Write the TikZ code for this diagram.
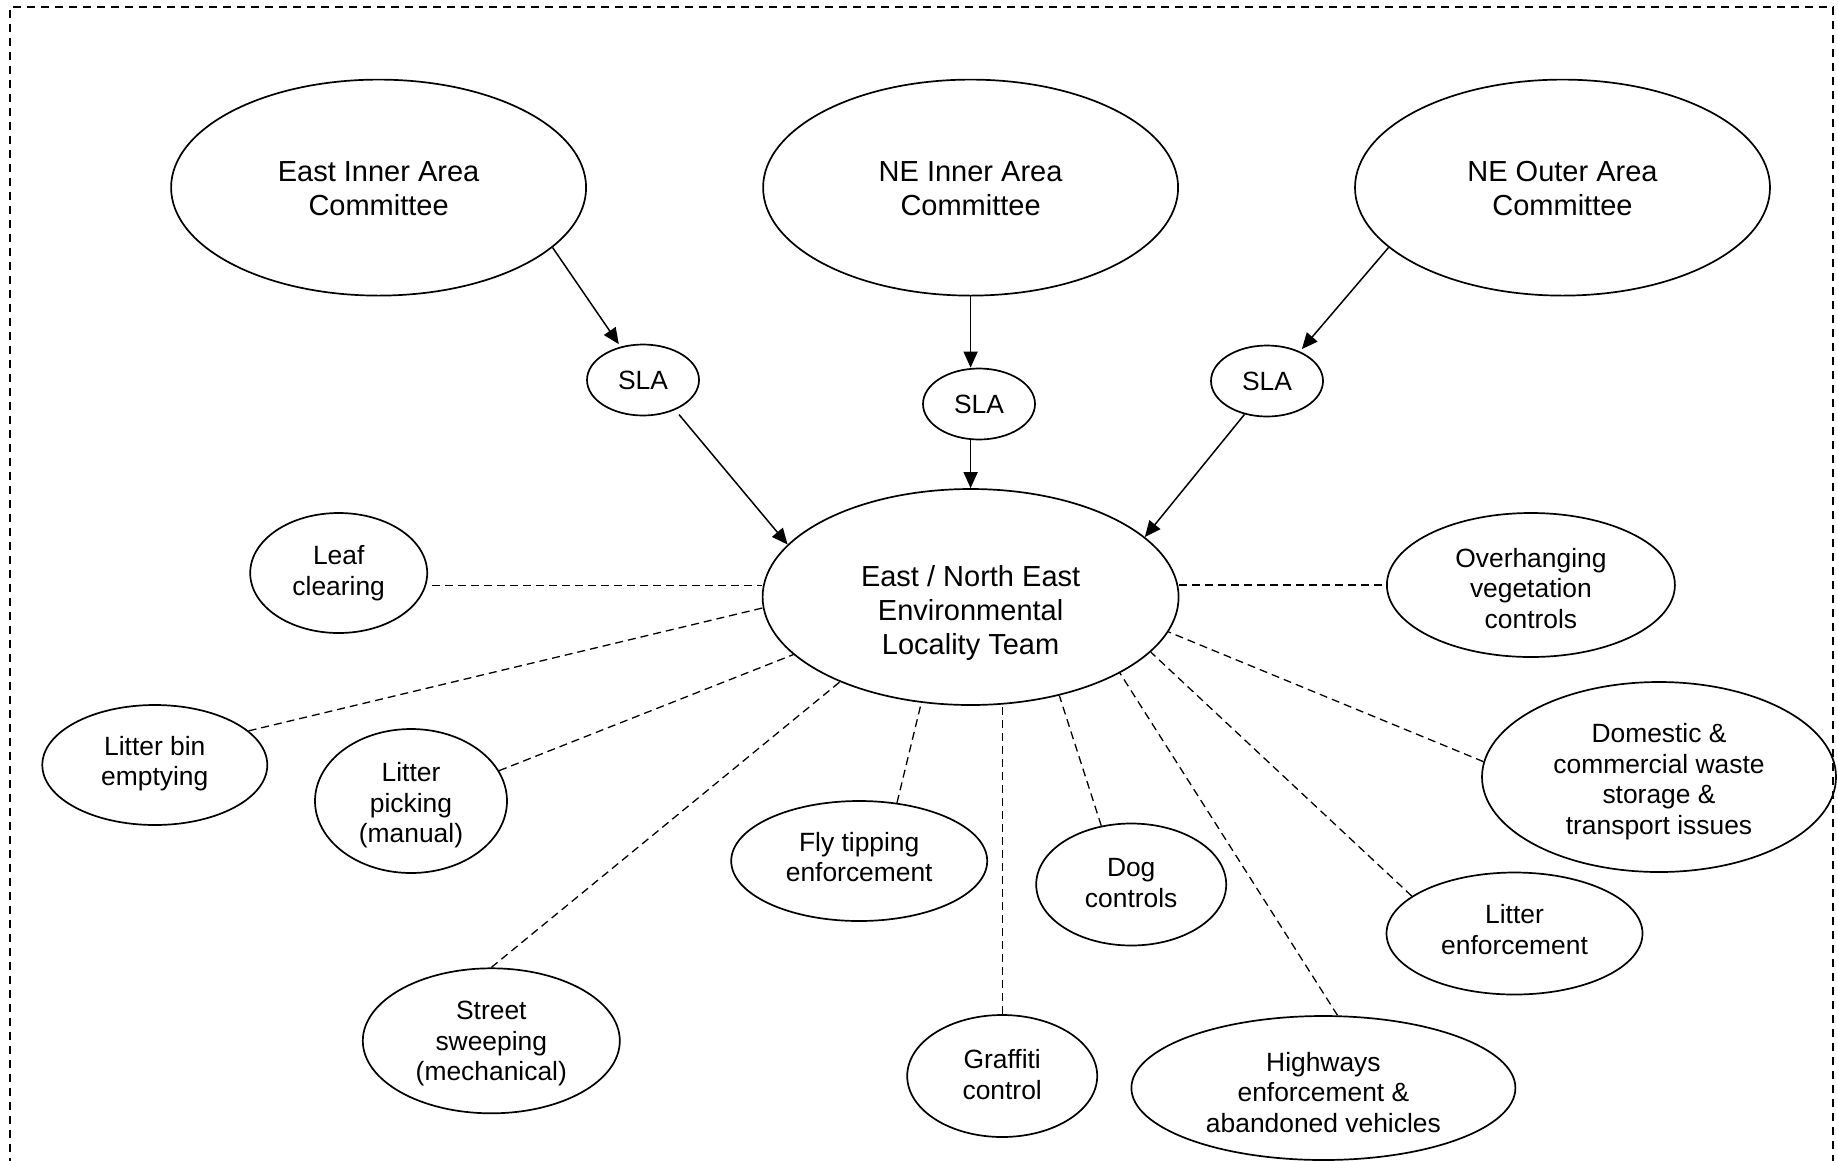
\documentclass[tikz,border=0pt]{standalone}
\usepackage{fontspec}
\setmainfont{Liberation Sans}
\usetikzlibrary{shapes.geometric,arrows.meta}
\newcommand\bub[8]{%
  \node[el,minimum width=#4,minimum height=#5] (#1) at (#2,#3) {};
  \node[#6,align=center,inner sep=0pt] (#1t) at ([yshift=#7]#1.center) {#8};}
\begin{document}
\begin{tikzpicture}[x=1pt,y=-1pt,
  el/.style={draw,ellipse,line width=1.7pt,inner sep=0pt},
  big/.style={font=\fontsize{29}{34}\selectfont},
  small/.style={font=\fontsize{26.4}{30.5}\selectfont},
  arr/.style={line width=1.5pt,-{Triangle[length=16pt,width=14pt]}},
  dsh/.style={line width=1.3pt,dash pattern=on 8pt off 5pt},
  frame/.style={line width=1.8pt,dash pattern=on 8pt off 6pt}
]
\useasboundingbox (0,0) rectangle (1838,1160);
\draw[frame] (10,1180) -- (10,7) -- (1833,7) -- (1833,1180);

% committees
\bub{eia}{378.6}{187.6}{415pt}{216pt}{big}{-1pt}{East Inner Area\\Committee}
\bub{nei}{970.6}{187.6}{415pt}{216pt}{big}{-1pt}{NE Inner Area\\Committee}
\bub{neo}{1562.5}{187.6}{415pt}{216pt}{big}{-1pt}{NE Outer Area\\Committee}

% SLAs
\bub{slaL}{643}{380}{112pt}{71pt}{small}{0pt}{SLA}
\bub{slaM}{979}{404}{112pt}{71pt}{small}{0pt}{SLA}
\bub{slaR}{1267}{381}{112pt}{71pt}{small}{0pt}{SLA}

% central
\bub{central}{970.6}{597}{416pt}{216pt}{big}{-16pt}{East / North East\\Environmental\\Locality Team}

% services
\bub{leaf}{338.7}{573}{177pt}{120pt}{small}{0pt}{Leaf\\clearing}
\bub{litterbin}{154.8}{765}{225pt}{120pt}{small}{1.5pt}{Litter bin\\emptying}
\bub{litterpick}{411}{801}{192pt}{144pt}{small}{-4.5pt}{Litter\\picking\\(manual)}
\bub{street}{491.3}{1040.8}{257pt}{145pt}{small}{-3pt}{Street\\sweeping\\(mechanical)}
\bub{fly}{859.2}{861}{256pt}{120pt}{small}{4pt}{Fly tipping\\enforcement}
\bub{graffiti}{1002.2}{1076}{190pt}{122pt}{small}{1.5pt}{Graffiti\\control}
\bub{dog}{1131.2}{884.5}{190pt}{122pt}{small}{1.5pt}{Dog\\controls}
\bub{highways}{1323.4}{1088}{384pt}{144pt}{small}{-4.5pt}{Highways\\enforcement \&\\abandoned vehicles}
\bub{litterenf}{1514.5}{933.5}{256pt}{122pt}{small}{4pt}{Litter\\enforcement}
\bub{domestic}{1659}{777}{354pt}{190pt}{small}{-4.5pt}{Domestic \&\\commercial waste\\storage \&\\transport issues}
\bub{overhang}{1530.9}{585}{288pt}{144pt}{small}{-3.5pt}{Overhanging\\vegetation\\controls}

% arrows
\draw[arr,shorten >=3pt] (eia.-19) -- (slaL.124);
\draw[arr,shorten <=6pt] (slaL.-43) -- (central.164);
\draw[arr] (nei.south) -- (nei.south |- slaM.north);
\draw[arr] (slaM.south -| central.north) -- (central.north);
\draw[arr,shorten >=3pt] (neo.-161) -- (slaR.42);
\draw[arr] (slaR.-124) -- (central.19.6);

% dashed links
\draw[dsh,shorten <=6pt] (leaf.-8) -- (leaf.-8 -| central.west);
\draw[dsh] (litterbin.20) -- (central.183);
\draw[dsh] (litterpick.19) -- (central.-162);
\draw[dsh] (street.north) -- (central.213);
\draw[dsh] (fly.57) -- (central.245);
\draw[dsh] (graffiti.north) -- (graffiti.north |- central.south);
\draw[dsh] (dog.117) -- (central.-48);
\draw[dsh] (highways.79) -- (central.-27);
\draw[dsh] (litterenf.160) -- (central.-17);
\draw[dsh] (domestic.175) -- (central.-10);
\draw[dsh,shorten >=3pt] (overhang.west -| central.east) -- (overhang.west);
\end{tikzpicture}
\end{document}
